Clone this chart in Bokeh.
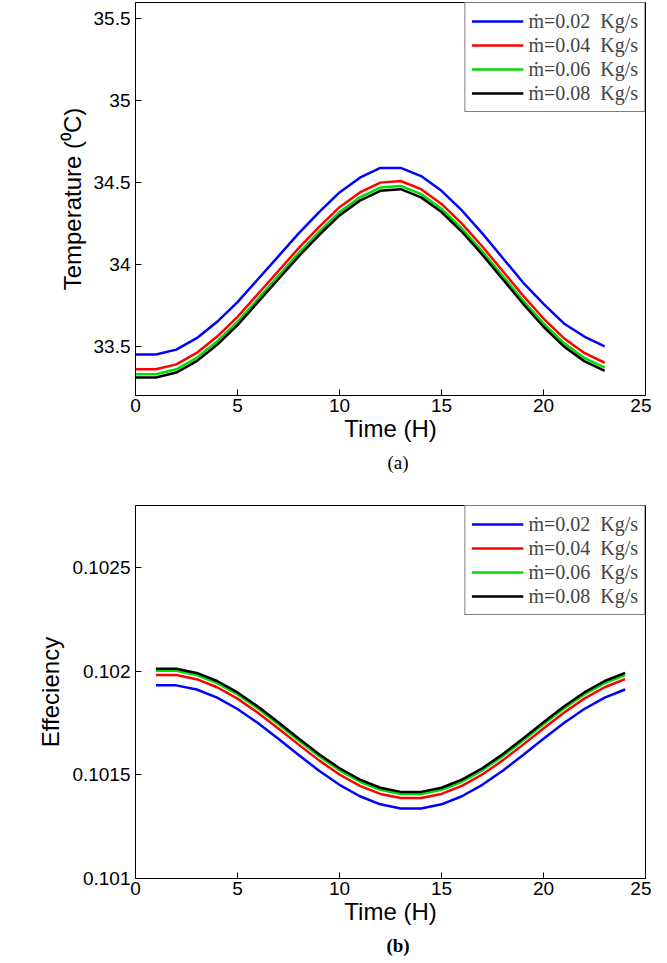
from bokeh.plotting import figure
from bokeh.layouts import column
from bokeh.models import Div, Range1d, FixedTicker, Legend, LegendItem
from bokeh.embed import file_html
from bokeh.resources import INLINE

labels = ["ṁ=0.02  Kg/s", "ṁ=0.04  Kg/s", "ṁ=0.06  Kg/s", "ṁ=0.08  Kg/s"]
colors = ["#0000ff", "#ff0000", "#00dd00", "#000000"]

# (a) temperature
hours_a = list(range(0, 24))
temp_002 = [33.45, 33.45, 33.48, 33.55, 33.65, 33.77, 33.91, 34.05, 34.19, 34.32, 34.44, 34.53,
            34.59, 34.59, 34.54, 34.45, 34.33, 34.19, 34.04, 33.89, 33.76, 33.64, 33.56, 33.50]
temp_004 = [33.36, 33.36, 33.39, 33.46, 33.56, 33.68, 33.82, 33.96, 34.10, 34.23, 34.35, 34.44,
            34.50, 34.51, 34.46, 34.37, 34.25, 34.11, 33.96, 33.81, 33.67, 33.55, 33.46, 33.40]
temp_006 = [33.33, 33.33, 33.36, 33.43, 33.53, 33.65, 33.79, 33.93, 34.07, 34.20, 34.32, 34.41,
            34.47, 34.48, 34.43, 34.34, 34.22, 34.08, 33.93, 33.78, 33.64, 33.52, 33.43, 33.37]
temp_008 = [33.31, 33.31, 33.34, 33.41, 33.51, 33.63, 33.77, 33.91, 34.05, 34.18, 34.30, 34.39,
            34.45, 34.46, 34.41, 34.32, 34.20, 34.06, 33.91, 33.76, 33.62, 33.50, 33.41, 33.35]

# (b) efficiency
hours_b = list(range(1, 25))
eff_002 = [.101932, .101932, .101912, .101873, .101818, .101750, .101674, .101596, .101520, .101452,
           .101397, .101358, .101338, .101338, .101358, .101397, .101452, .101520, .101596, .101674,
           .101750, .101818, .101873, .101912]
eff_004 = [.101982, .101982, .101962, .101923, .101868, .101800, .101724, .101646, .101570, .101502,
           .101447, .101408, .101388, .101388, .101408, .101447, .101502, .101570, .101646, .101724,
           .101800, .101868, .101923, .101962]
eff_006 = [.102002, .102002, .101982, .101943, .101888, .101820, .101744, .101666, .101590, .101522,
           .101467, .101428, .101408, .101408, .101428, .101467, .101522, .101590, .101666, .101744,
           .101820, .101888, .101943, .101982]
eff_008 = [.102012, .102012, .101992, .101953, .101898, .101830, .101754, .101676, .101600, .101532,
           .101477, .101438, .101418, .101418, .101438, .101477, .101532, .101600, .101676, .101754,
           .101830, .101898, .101953, .101992]


def make_plot(x, series, yrange, yticks, ylabel, height, top):
    p = figure(width=651, height=height, output_backend="svg", toolbar_location=None,
               x_range=Range1d(0, 25), y_range=Range1d(*yrange),
               min_border_left=135, min_border_right=6, min_border_top=top)
    p.outline_line_color = "black"
    p.grid.visible = False
    for ax in (p.xaxis, p.yaxis):
        ax.major_tick_in = 6
        ax.major_tick_out = 0
        ax.minor_tick_line_color = None
        ax.major_label_text_font = "Liberation Sans"
        ax.major_label_text_font_size = "19px"
        ax.major_label_text_color = "black"
        ax.axis_label_text_font = "Liberation Sans"
        ax.axis_label_text_font_size = "24px"
        ax.axis_label_text_font_style = "normal"
        ax.axis_label_text_color = "black"
        ax.axis_line_color = "black"
    p.xaxis.ticker = FixedTicker(ticks=[0, 5, 10, 15, 20, 25])
    p.yaxis.ticker = FixedTicker(ticks=yticks)
    p.xaxis.axis_label = "Time (H)"
    p.yaxis.axis_label = ylabel
    p.xaxis.axis_label_standoff = 0
    p.xaxis.major_label_standoff = 3
    items = []
    for ys, c, lab in zip(series, colors, labels):
        r = p.line(x, ys, line_color=c, line_width=2.5)
        items.append(LegendItem(label=lab, renderers=[r]))
    leg = Legend(items=items, location="top_right", border_line_color="black",
                 label_text_font="Liberation Serif", label_text_font_size="20px",
                 glyph_width=52, spacing=0, padding=6, margin=0,
                 label_height=24, glyph_height=24)
    p.add_layout(leg)
    return p


p1 = make_plot(hours_a, [temp_002, temp_004, temp_006, temp_008], (33.2, 35.6),
               [33.5, 34, 34.5, 35, 35.5], "Temperature (⁰C)", 444, 2)
p1.yaxis.major_label_overrides = {33.5: "33.5", 34: "34", 34.5: "34.5", 35: "35", 35.5: "35.5"}
p2 = make_plot(hours_b, [eff_002, eff_004, eff_006, eff_008], (0.101, 0.1028),
               [0.101, 0.1015, 0.102, 0.1025], "Effeciency", 433, 11)
p2.yaxis.major_label_overrides = {0.101: "0.101", 0.1015: "0.1015", 0.102: "0.102", 0.1025: "0.1025"}

cap_a = Div(text="<div style='width:651px;text-align:center;padding-left:135px;box-sizing:border-box;"
                 "font-family:Liberation Serif;font-size:19px'>(a)</div>", width=651, height=40)
cap_b = Div(text="<div style='width:651px;text-align:center;padding-left:135px;box-sizing:border-box;"
                 "font-family:Liberation Serif;font-size:19px;font-weight:bold'>(b)</div>", width=651, height=30)

layout = column(p1, cap_a, p2, cap_b, spacing=0)
open("out.html", "w").write(file_html(layout, INLINE))
